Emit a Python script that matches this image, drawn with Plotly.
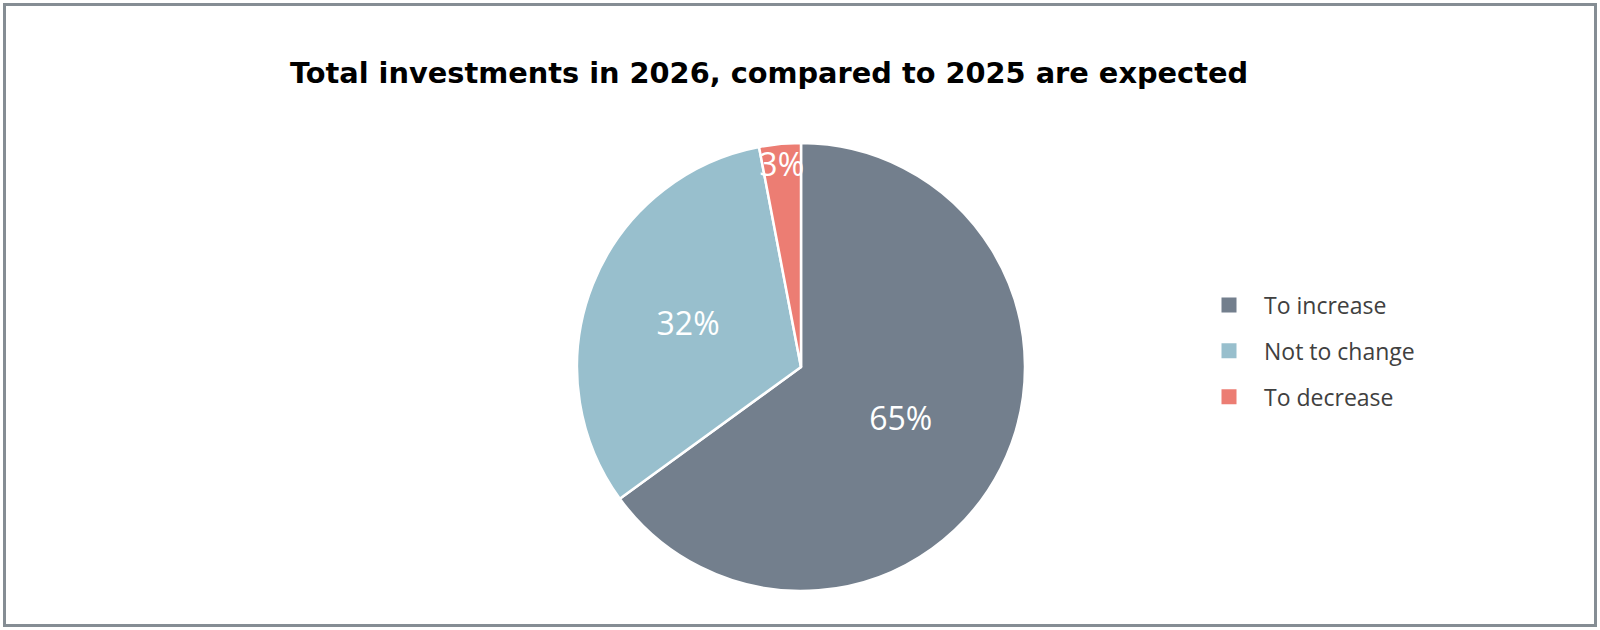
import plotly.graph_objects as go

categories = ["To increase", "Not to change", "To decrease"]
values = [65, 32, 3]
colors = ["#737f8d", "#98bfcd", "#ec7d73"]
title_text = "Total investments in 2026, compared to 2025 are expected"

W, H = 1600, 630
cx, cy, r = 801, 367, 224

fig = go.Figure()
fig.add_trace(go.Pie(
    labels=categories,
    values=values,
    sort=False,
    direction="clockwise",
    rotation=0,
    marker=dict(colors=colors, line=dict(color="white", width=2.5)),
    texttemplate="%{percent:.0%}",
    textposition="inside",
    insidetextorientation="horizontal",
    insidetextfont=dict(family="Open Sans", size=32, color="white"),
    showlegend=False,
    hoverinfo="label+percent",
    domain=dict(x=[(cx - r) / W, (cx + r) / W],
                y=[1 - (cy + r) / H, 1 - (cy - r) / H]),
))

# legend entries (one group each so spacing can match)
for i, (cat, col) in enumerate(zip(categories, colors)):
    fig.add_trace(go.Scatter(
        x=[None], y=[None], mode="markers", name=cat,
        marker=dict(symbol="square", size=15, color=col),
        legendgroup=f"g{i}", showlegend=True,
    ))

fig.update_layout(
    width=W, height=H,
    margin=dict(l=0, r=0, t=0, b=0),
    paper_bgcolor="white", plot_bgcolor="white",
    xaxis=dict(visible=False), yaxis=dict(visible=False),
    uniformtext=dict(minsize=32, mode="show"),
    title=dict(
        text=f"<b>{title_text}</b>",
        font=dict(family="DejaVu Sans", size=28.8, color="black"),
        x=769 / W, xanchor="center",
        y=1 - 73 / H, yanchor="middle",
        xref="paper", yref="paper",
    ),
    legend=dict(
        x=1194 / W, y=1 - 351 / H, xanchor="left", yanchor="middle",
        font=dict(family="Open Sans", size=23, color="#404040"),
        tracegroupgap=13,
        itemwidth=60,
        bgcolor="rgba(0,0,0,0)",
    ),
    shapes=[dict(
        type="rect", xref="paper", yref="paper",
        x0=4.5 / W, x1=1 - 4.5 / W, y0=4.5 / H, y1=1 - 4.5 / H,
        line=dict(color="#858d94", width=3),
    )],
)

fig.write_html("out.html", config={"displayModeBar": False},
               post_script="document.body.style.margin='0';")
